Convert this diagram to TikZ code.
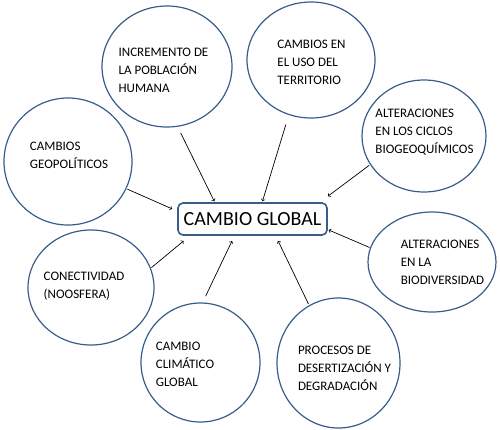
\documentclass[tikz,border=0pt]{standalone}
\usepackage{fontspec}
\setmainfont{Carlito}
\usetikzlibrary{shapes.geometric}
\definecolor{ovalblue}{HTML}{385D8A}

\begin{document}
\begin{tikzpicture}[x=1pt,y=-1pt,
  oval/.style={ellipse, draw=ovalblue, line width=1.2pt, inner sep=0pt},
  ovaltext/.style={align=left, inner sep=0pt, font=\fontsize{13}{18}\selectfont},
  link/.style={->, line width=0.7pt, black}]

\useasboundingbox (0,0) rectangle (500,429);

\node [draw=ovalblue, line width=1.6pt, rounded corners=5pt, minimum width=149pt, minimum height=32pt, inner sep=0pt, font=\fontsize{20}{24}\selectfont] (global) at (252.5,219) {CAMBIO GLOBAL};

% ovals
\node [oval, minimum width=130pt, minimum height=121pt] (poblacion) at (167,66.5) {};
\node [oval, minimum width=128pt, minimum height=116pt] (territorio) at (311,60) {};
\node [oval, minimum width=124pt, minimum height=112pt] (ciclos) at (424,136) {};
\node [oval, minimum width=128pt, minimum height=127pt] (geopolitica) at (68,161.5) {};
\node [oval, minimum width=128pt, minimum height=100pt] (biodiversidad) at (432,262) {};
\node [oval, minimum width=126pt, minimum height=115pt] (noosfera) at (91,287.5) {};
\node [oval, minimum width=119pt, minimum height=119pt] (clima) at (200.5,362.5) {};
\node [oval, minimum width=123pt, minimum height=130pt] (desertizacion) at (338.5,363) {};

\node [ovaltext] (poblacion-txt) at (163.5,70) {INCREMENTO DE\\LA POBLACIÓN\\HUMANA};
\node [ovaltext] (territorio-txt) at (311.5,62) {CAMBIOS EN\\EL USO DEL\\TERRITORIO};
\node [ovaltext] (ciclos-txt) at (424.5,132) {ALTERACIONES\\EN LOS CICLOS\\BIOGEOQUÍMICOS};
\node [ovaltext] (geopolitica-txt) at (69,155.5) {CAMBIOS\\GEOPOLÍTICOS};
\node [ovaltext] (biodiversidad-txt) at (442.5,262.5) {ALTERACIONES\\EN LA\\BIODIVERSIDAD};
\node [ovaltext] (noosfera-txt) at (84,286.5) {CONECTIVIDAD\\(NOOSFERA)};
\node [ovaltext] (clima-txt) at (185,364.5) {CAMBIO\\CLIMÁTICO\\GLOBAL};
\node [ovaltext] (desertizacion-txt) at (344.5,368.5) {PROCESOS DE\\DESERTIZACIÓN Y\\DEGRADACIÓN};

% arrows into the box
\draw[link, shorten <=7pt, shorten >=1pt] (poblacion.-80.6) -- (global.156);
\draw[link, shorten <=10pt, shorten >=1pt] (territorio.248.7) -- (global.60);
\draw[link, shorten <=1pt, shorten >=5.5pt] (geopolitica.-25) -- (global.174);
\draw[link, shorten <=1pt, shorten >=10pt] (ciclos.208.2) -- (global.14.6);
\draw[link, shorten <=0.5pt, shorten >=1pt] (biodiversidad.167.3) -- (global.-8.1);
\draw[link, shorten <=0.7pt, shorten >=8pt] (noosfera.18) -- (global.195.2);
\draw[link, shorten <=7pt, shorten >=5.7pt] (clima.88.6) -- (global.223.8);
\draw[link, shorten <=1.4pt, shorten >=5.5pt] (desertizacion.117.7) -- (global.324.1);

\end{tikzpicture}
\end{document}
